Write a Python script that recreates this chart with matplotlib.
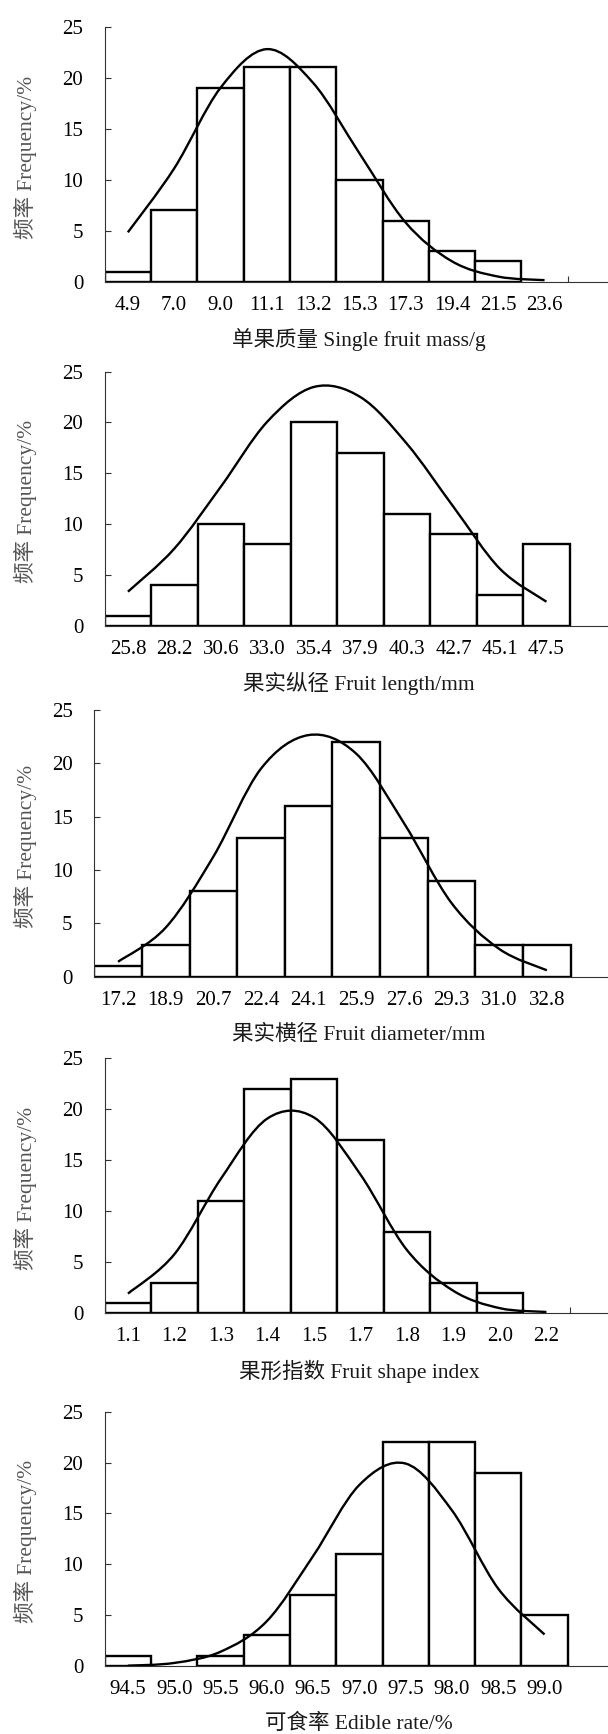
import numpy as np
import matplotlib
matplotlib.use("Agg")
import matplotlib.pyplot as plt
from matplotlib.path import Path
from matplotlib.patches import PathPatch

# ---------------- data ----------------
mass_labels = ['4.9', '7.0', '9.0', '11.1', '13.2', '15.3', '17.3', '19.4', '21.5', '23.6']
mass_freq = [1, 7, 19, 21, 21, 10, 6, 3, 2, 0]
mass_curve = [4.84, 11.1, 19.0, 22.8, 19.5, 12.6, 5.8, 2.0, 0.5, 0.15]

length_labels = ['25.8', '28.2', '30.6', '33.0', '35.4', '37.9', '40.3', '42.7', '45.1', '47.5']
length_freq = [1, 4, 10, 8, 20, 17, 11, 9, 3, 8]
length_curve = [3.35, 7.6, 13.7, 20.1, 23.5, 22.5, 17.9, 11.7, 5.6, 2.36]

diam_labels = ['17.2', '18.9', '20.7', '22.4', '24.1', '25.9', '27.6', '29.3', '31.0', '32.8']
diam_freq = [1, 3, 8, 13, 16, 22, 13, 9, 3, 3]
diam_curve = [1.4, 4.6, 11.25, 19.5, 22.65, 20.9, 14.4, 6.9, 2.6, 0.6]

shape_labels = ['1.1', '1.2', '1.3', '1.4', '1.5', '1.7', '1.8', '1.9', '2.0', '2.2']
shape_freq = [1, 3, 11, 22, 23, 17, 8, 3, 2, 0]
shape_curve = [1.93, 5.8, 13.2, 19.1, 19.2, 13.6, 6.2, 2.2, 0.5, 0.13]

edible_labels = ['94.5', '95.0', '95.5', '96.0', '96.5', '97.0', '97.5', '98.0', '98.5', '99.0']
edible_freq = [1, 0, 1, 3, 7, 11, 22, 22, 19, 5]
edible_curve = [0.03, 0.3, 1.4, 4.4, 10.8, 17.8, 19.9, 15.3, 7.6, 3.1]

x_titles = ['单果质量 Single fruit mass/g', '果实纵径 Fruit length/mm',
            '果实横径 Fruit diameter/mm', '果形指数 Fruit shape index',
            '可食率 Edible rate/%']
y_title = '频率 Frequency/%'
y_ticks = [0, 5, 10, 15, 20, 25]

# ---------------- layout (pixels) ----------------
W, H = 608, 1734
FAM = ['Liberation Serif', 'Noto Sans CJK SC', 'DejaVu Sans']
plt.rcParams['font.family'] = FAM

# left, top(25), bottom(0), slot width
layout = [
    (104.7, 26.7, 281.7, 46.3),
    (104.7, 371.7, 625.7, 46.5),
    (94.2, 710.0, 976.7, 47.65),
    (104.7, 1058.3, 1313.3, 46.5),
    (104.7, 1411.7, 1666.0, 46.3),
]

panels = [
    (mass_labels, mass_freq, mass_curve),
    (length_labels, length_freq, length_curve),
    (diam_labels, diam_freq, diam_curve),
    (shape_labels, shape_freq, shape_curve),
    (edible_labels, edible_freq, edible_curve),
]


def smooth_path(xs, ys):
    pts = np.column_stack([np.asarray(xs, float), np.asarray(ys, float)])
    n = len(pts)
    verts = [pts[0]]
    codes = [Path.MOVETO]
    for i in range(n - 1):
        p0 = pts[i - 1] if i > 0 else pts[i]
        p1 = pts[i]
        p2 = pts[i + 1]
        p3 = pts[i + 2] if i + 2 < n else pts[i + 1]
        c1 = p1 + (p2 - p0) / 6.0
        c2 = p2 - (p3 - p1) / 6.0
        verts += [c1, c2, p2]
        codes += [Path.CURVE4] * 3
    return Path(verts, codes)


fig = plt.figure(figsize=(W / 100, H / 100), dpi=100)

LW = 1.7
for (labels, freq, curve), (left, top, bottom, slot), xt in zip(panels, layout, x_titles):
    ax = fig.add_axes([left / W, 1 - bottom / H, (W - left) / W, (bottom - top) / H])
    x = np.arange(len(labels))
    lws = [LW if v > 0 else 0 for v in freq]
    ax.bar(x, freq, width=1.0, color='white', edgecolor='black', linewidth=lws, zorder=2)
    ax.add_patch(PathPatch(smooth_path(x, curve), fill=False, edgecolor='black',
                           linewidth=LW, zorder=3, capstyle='butt'))
    ax.set_xlim(-0.5, -0.5 + (W - left) / slot)
    ax.set_ylim(0, 25)
    ax.set_yticks(y_ticks)
    ax.set_xticks(x)
    ax.set_xticklabels(labels)
    ax.set_xticks(np.arange(len(labels) + 1) - 0.5, minor=True)
    ax.tick_params(axis='x', which='major', length=0, pad=10, labelsize=15, colors='black')
    ax.tick_params(axis='x', which='minor', direction='in', length=4.3, width=0.8, color='#333333')
    ax.tick_params(axis='y', direction='in', length=4.3, width=0.8, pad=15.5,
                   labelsize=15, colors='#333333', labelcolor='black')
    for s in ['top', 'right']:
        ax.spines[s].set_visible(False)
    for s in ['left', 'bottom']:
        ax.spines[s].set_linewidth(0.8)
        ax.spines[s].set_color('#333333')
    ax.patch.set_alpha(0)
    for lab in ax.get_xticklabels() + ax.get_yticklabels():
        lab.set_family(FAM)

    # axis titles
    fig.text(359 / W, 1 - (bottom + 58) / H, xt, ha='center', va='center',
             fontsize=15.5, color='#1a1a1a', family=FAM)
    fig.text(25 / W, 1 - ((top + bottom) / 2 + 3) / H, y_title, ha='center', va='center',
             rotation=90, fontsize=15.5, color='#555555', family=FAM)

fig.savefig('out.png', dpi=100, facecolor='white')
